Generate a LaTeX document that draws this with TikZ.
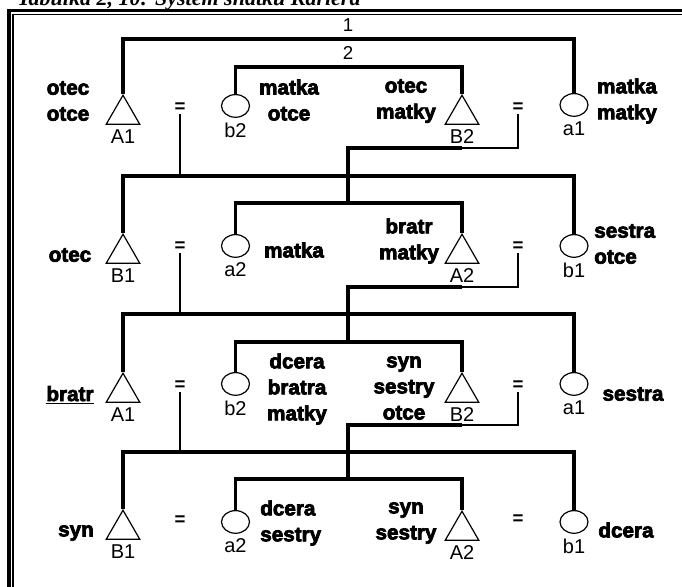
\documentclass[tikz,border=0pt]{standalone}
\usepackage{fontspec}
\setmainfont{Liberation Sans}
\newfontfamily\heavyfont{Liberation Sans}[BoldFeatures = {FakeBold = 3.5}]
\newfontfamily\titlefont{Liberation Serif}
\usetikzlibrary{shapes.geometric}
\tikzset{
  male/.style = {draw, line width = 0.9pt, regular polygon, regular polygon sides = 3,
                 minimum size = 29pt, inner sep = 0pt, anchor = north},
  female/.style = {draw, line width = 0.9pt, ellipse, minimum width = 21pt,
                   minimum height = 17pt, inner sep = 0pt, anchor = north},
  sym/.style = {font = \fontsize{15}{17}\selectfont, label distance = 0pt},
  kin/.style = {font = \heavyfont\bfseries\fontsize{15.5}{19.5}\selectfont, align = center, inner sep = 0pt},
  eq/.style = {font = \bfseries\fontsize{14}{16}\selectfont, inner sep = 1pt},
  bar/.style = {line width = 2.5pt},
  descent/.style = {line width = 1pt}
}
\begin{document}
\begin{tikzpicture}[x = 0.75pt, y = -0.75pt]
            \useasboundingbox (0,0) rectangle (682,586);
            % frame and title
            \node[anchor = base west, inner sep = 0pt, font = \titlefont\bfseries\itshape\fontsize{16.5}{19}\selectfont] (title) at (17,5) {Tabulka 2, 10: Systém sňatku Kariera};
            \draw[line width = 2.6pt] (9.2,620) -- (9.2,10.7) -- (720,10.7);
            \draw[line width = 1.1pt] (13.2,620) -- (13.2,14.7) -- (720,14.7);
            % generation 1
            \node[male, label = {[sym]below:A1}] (A1g1) at (123,94) {};
            \node[female, label = {[sym]below:b2}] (b2g1) at (235.5,94) {};
            \node[male, label = {[sym]below:B2}] (B2g1) at (462,94) {};
            \node[female, label = {[sym]below:a1}] (a1g1) at (574,93) {};
            \node[eq] (eLg1) at (180,108) {=};
            \node[eq] (eRg1) at (518,108) {=};
            \node[kin] (k11) at (68,101) {otec\\otce};
            \node[kin] (k12) at (289,100) {matka\\otce};
            \node[kin] (k13) at (406,101) {otec\\matky};
            \node[kin] (k14) at (627,101) {matka\\matky};
            \coordinate (top1) at (348,39);
            \coordinate (top2) at (348,67);
            \node[font = \fontsize{14}{16}\selectfont] (n1) at (348,25) {1};
            \node[font = \fontsize{14}{16}\selectfont] (n2) at (348,53) {2};
            \draw[bar] (A1g1.north) |- (top1) -| (a1g1.north);
            \draw[bar] (b2g1.north) |- (top2) -| (B2g1.north);
            % generation 2
            \node[male, label = {[sym]below:B1}] (B1g2) at (123,233) {};
            \node[female, label = {[sym]below:a2}] (a2g2) at (235.5,234) {};
            \node[male, label = {[sym]below:A2}] (A2g2) at (462,233) {};
            \node[female, label = {[sym]below:b1}] (b1g2) at (574,234) {};
            \node[eq] (eLg2) at (180,247) {=};
            \node[eq] (eRg2) at (518,247) {=};
            \node[kin] (k21) at (70,255) {otec};
            \node[kin] (k22) at (294,250) {matka};
            \node[kin] (k23) at (409,241) {bratr\\matky};
            \node[kin, align = left, anchor = west] (k24) at (594,244) {sestra\\otce};
            \coordinate (kink1) at (348,148);
            \coordinate (out2) at (348,176);
            \coordinate (in2) at (348,203);
            \draw[descent] (eLg1.south) -- (eLg1.south |- out2);
            \draw[descent] (eRg1.south) |- (B2g1 |- kink1);
            \draw[bar] (B2g1 |- kink1) -- (kink1) -- (in2);
            \draw[bar] (B1g2.north) |- (out2) -| (b1g2.north);
            \draw[bar] (a2g2.north) |- (in2) -| (A2g2.north);
            % generation 3
            \node[male, label = {[sym]below:A1}] (A1g3) at (123,372) {};
            \node[female, label = {[sym]below:b2}] (b2g3) at (235.5,372) {};
            \node[male, label = {[sym]below:B2}] (B2g3) at (462,372) {};
            \node[female, label = {[sym]below:a1}] (a1g3) at (574,372) {};
            \node[eq] (eLg3) at (180,386) {=};
            \node[eq] (eRg3) at (518,386) {=};
            \node[kin] (k31) at (70,395) {\underline{bratr}};
            \node[kin] (k32) at (297,389) {dcera\\bratra\\matky};
            \node[kin] (k33) at (404,388) {syn\\sestry\\otce};
            \node[kin] (k34) at (633,394) {sestra};
            \coordinate (kink2) at (348,287);
            \coordinate (out3) at (348,314);
            \coordinate (in3) at (348,342);
            \draw[descent] (eLg2.south) -- (eLg2.south |- out3);
            \draw[descent] (eRg2.south) |- (A2g2 |- kink2);
            \draw[bar] (A2g2 |- kink2) -- (kink2) -- (in3);
            \draw[bar] (A1g3.north) |- (out3) -| (a1g3.north);
            \draw[bar] (b2g3.north) |- (in3) -| (B2g3.north);
            % generation 4
            \node[male, label = {[sym]below:B1}] (B1g4) at (123,509) {};
            \node[female, label = {[sym]below:a2}] (a2g4) at (235.5,510) {};
            \node[male, label = {[sym]below:A2}] (A2g4) at (462,510) {};
            \node[female, label = {[sym]below:b1}] (b1g4) at (574,510) {};
            \node[eq] (eLg4) at (180,521) {=};
            \node[eq] (eRg4) at (518,520) {=};
            \node[kin] (k41) at (76,533) {syn};
            \node[kin, align = left, anchor = west] (k42) at (260,523) {dcera\\sestry};
            \node[kin] (k43) at (406,523) {syn\\sestry};
            \node[kin] (k44) at (626,530) {dcera};
            \coordinate (kink3) at (348,425);
            \coordinate (out4) at (348,452);
            \coordinate (in4) at (348,479);
            \draw[descent] (eLg3.south) -- (eLg3.south |- out4);
            \draw[descent] (eRg3.south) |- (B2g3 |- kink3);
            \draw[bar] (B2g3 |- kink3) -- (kink3) -- (in4);
            \draw[bar] (B1g4.north) |- (out4) -| (b1g4.north);
            \draw[bar] (a2g4.north) |- (in4) -| (A2g4.north);
\end{tikzpicture}
\end{document}
